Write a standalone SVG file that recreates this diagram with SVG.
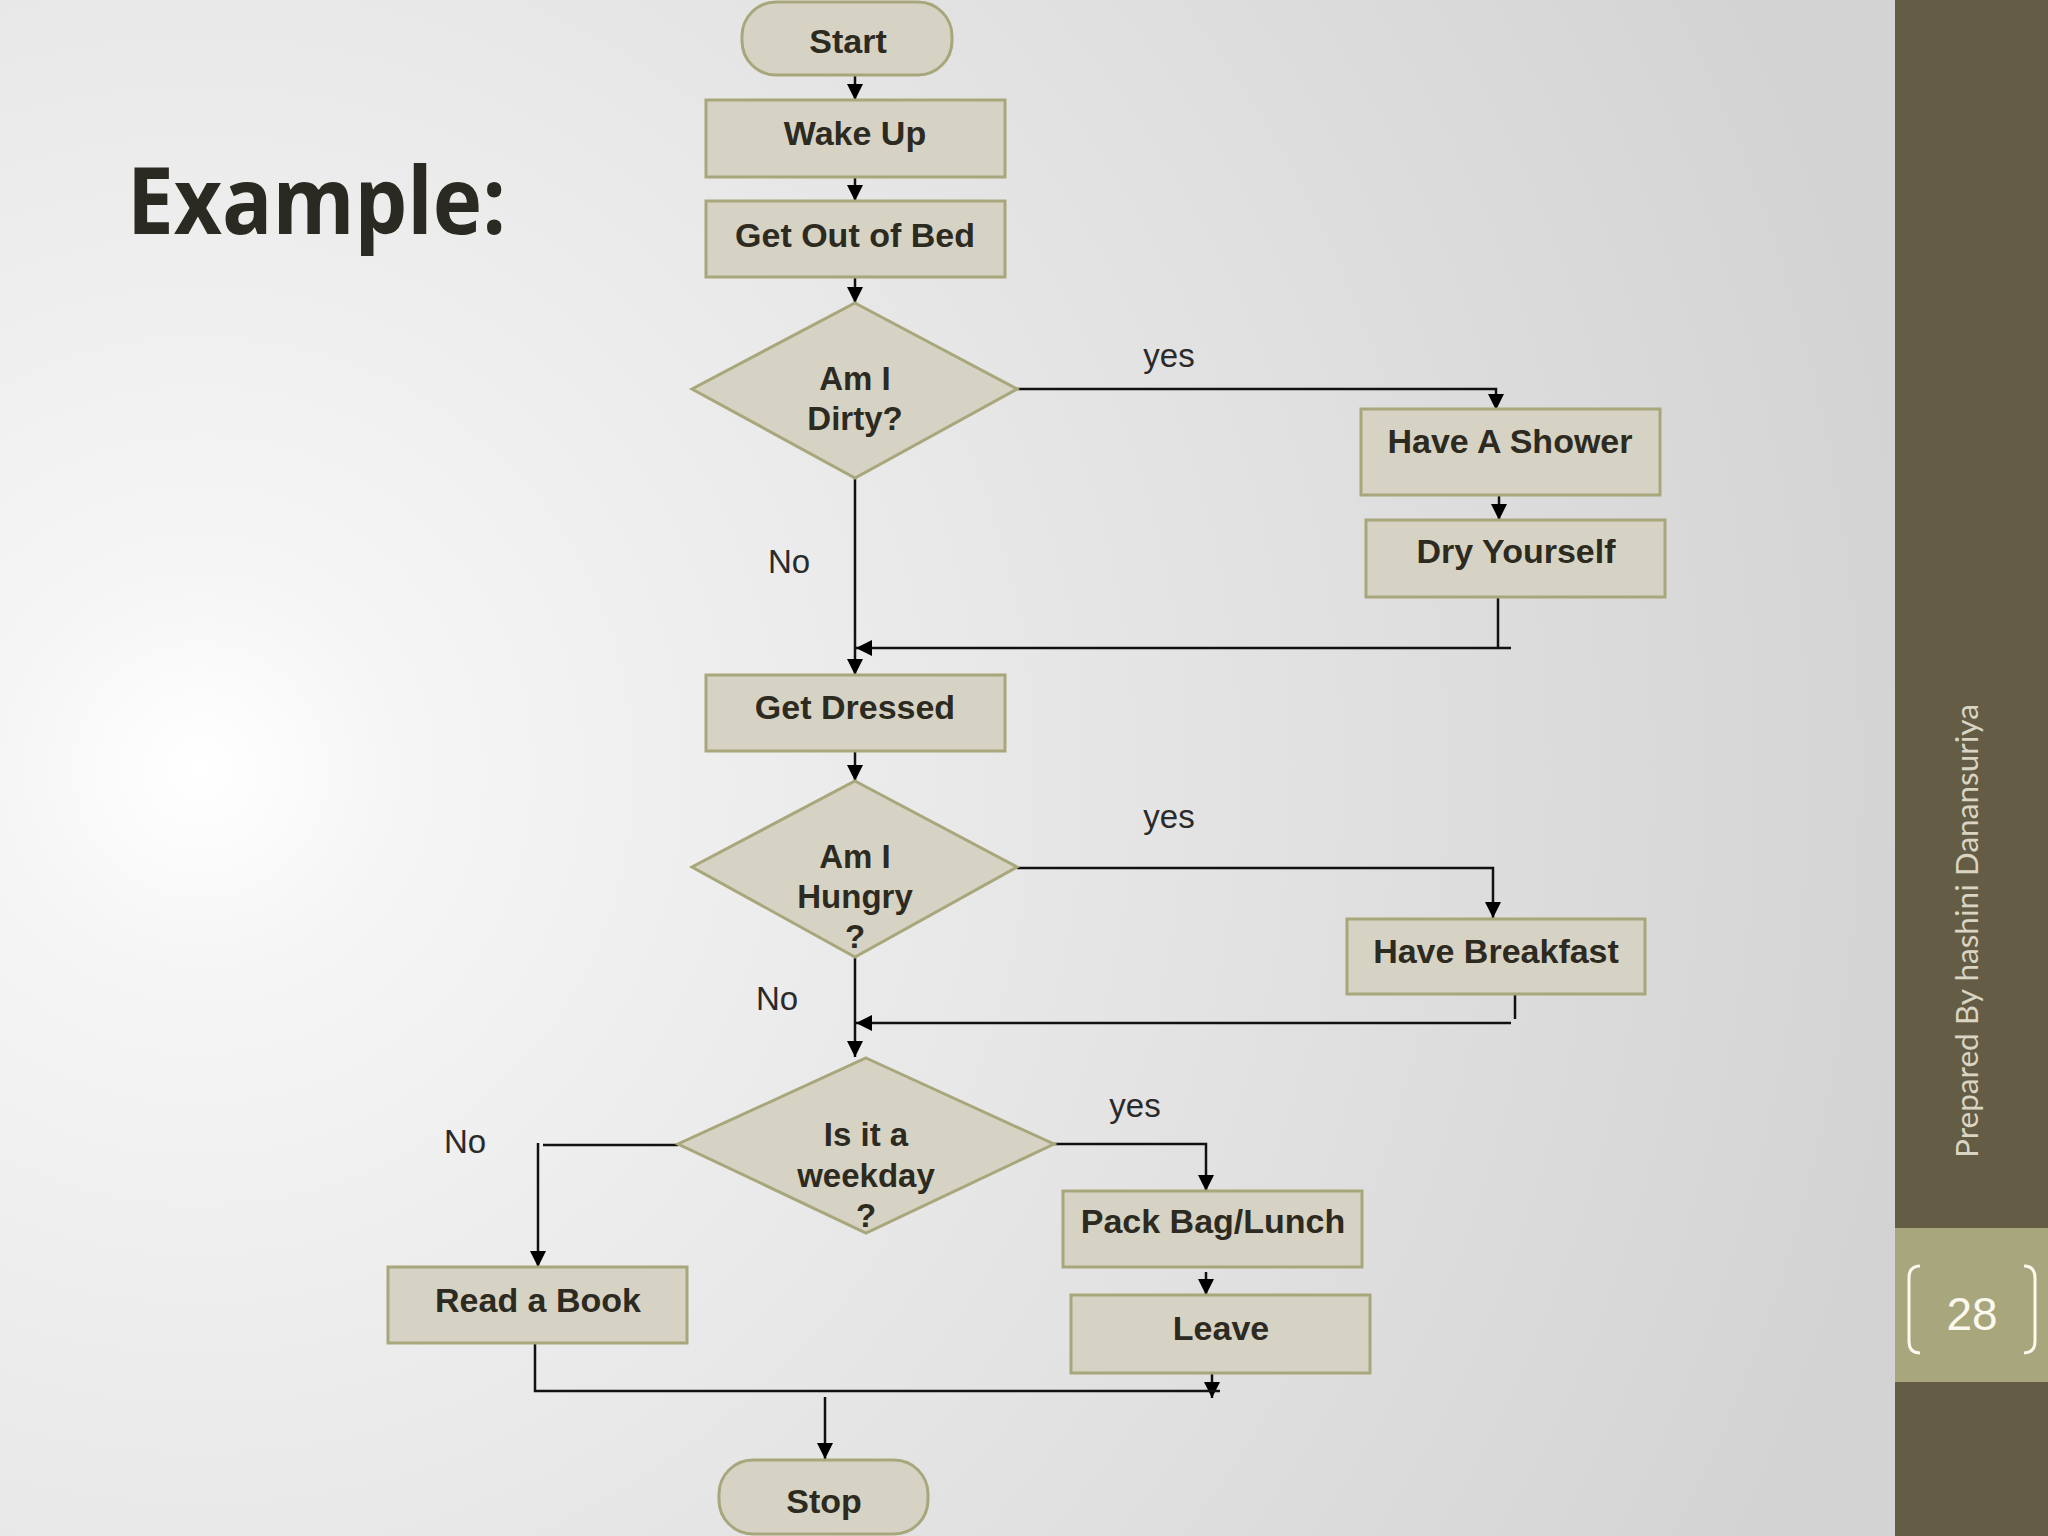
<svg xmlns="http://www.w3.org/2000/svg" width="2048" height="1536" viewBox="0 0 2048 1536">
<defs>
<radialGradient id="bg" gradientUnits="userSpaceOnUse" cx="200" cy="770" r="1750">
<stop offset="0" stop-color="#ffffff"/>
<stop offset="0.12" stop-color="#f5f5f5"/>
<stop offset="0.5" stop-color="#e6e6e6"/>
<stop offset="1" stop-color="#d3d3d3"/>
</radialGradient>
<marker id="ah" viewBox="0 0 16 16" refX="16" refY="8" markerWidth="16" markerHeight="16" markerUnits="userSpaceOnUse" orient="auto">
<path d="M0,0 L16,8 L0,16 z" fill="#000"/>
</marker>
<style>
.box{fill:#d6d3c5;stroke:#a8a77c;stroke-width:3}
.t{font-family:"Liberation Sans",Arial,sans-serif;font-weight:bold;font-size:34px;fill:#2d2a1f;text-anchor:middle}
.d{font-size:33px}
.lbl{font-family:"Liberation Sans",Arial,sans-serif;font-size:33px;fill:#2a2a2a;text-anchor:middle}
.c{fill:none;stroke:#111;stroke-width:2.5}
.a{marker-end:url(#ah)}
</style>
</defs>
<rect x="0" y="0" width="2048" height="1536" fill="url(#bg)"/>
<rect x="1895" y="0" width="153" height="1536" fill="#655c45"/>
<rect x="1895" y="1228" width="153" height="154" fill="#a8a67d"/>
<path d="M1920,1266 Q1909,1266 1909,1278 L1909,1341 Q1909,1353 1920,1353" fill="none" stroke="#fbf8ee" stroke-width="3"/>
<path d="M2024,1266 Q2035,1266 2035,1278 L2035,1341 Q2035,1353 2024,1353" fill="none" stroke="#fbf8ee" stroke-width="3"/>
<text x="1972" y="1330" font-family="Liberation Sans,Arial,sans-serif" font-size="46" fill="#fbf8ee" text-anchor="middle">28</text>
<text transform="translate(1978,931) rotate(-90)" x="0" y="0" font-family="Lato,'Open Sans',sans-serif" font-size="31" fill="#d9d5c2" text-anchor="middle" textLength="454" lengthAdjust="spacingAndGlyphs">Prepared By hashini Danansuriya</text>
<text x="127" y="234" font-family="'Open Sans',Lato,sans-serif" font-weight="bold" font-size="94" fill="#2b2a22" textLength="379" lengthAdjust="spacingAndGlyphs">Example:</text>

<g id="connectors">
<line class="c a" x1="855" y1="76" x2="855" y2="100"/>
<line class="c a" x1="855" y1="177" x2="855" y2="201"/>
<line class="c a" x1="855" y1="277" x2="855" y2="303"/>
<polyline class="c a" points="1017,389 1496,389 1496,410"/>
<line class="c a" x1="1499" y1="495" x2="1499" y2="520"/>
<line class="c" x1="1498" y1="597" x2="1498" y2="648"/>
<line class="c a" x1="1511" y1="648" x2="856" y2="648"/>
<line class="c a" x1="855" y1="478" x2="855" y2="675"/>
<line class="c a" x1="855" y1="751" x2="855" y2="781"/>
<polyline class="c a" points="1017,868 1493,868 1493,918"/>
<line class="c" x1="1515" y1="994" x2="1515" y2="1019"/>
<line class="c a" x1="1511" y1="1023" x2="856" y2="1023"/>
<line class="c a" x1="855" y1="957" x2="855" y2="1057"/>
<line class="c" x1="543" y1="1145" x2="678" y2="1145"/>
<line class="c a" x1="538" y1="1143" x2="538" y2="1267"/>
<polyline class="c a" points="1054,1144 1206,1144 1206,1191"/>
<line class="c a" x1="1206" y1="1272" x2="1206" y2="1295"/>
<line class="c a" x1="1212" y1="1373" x2="1212" y2="1398"/>
<polyline class="c" points="535,1343 535,1391 1220,1391"/>
<line class="c a" x1="825" y1="1397" x2="825" y2="1459"/>
</g>

<g id="start"><rect class="box" x="742" y="2" width="210" height="73" rx="34"/><text class="t" x="848" y="53">Start</text></g>
<g id="wake-up"><rect class="box" x="706" y="100" width="299" height="77"/><text class="t" x="855" y="145">Wake Up</text></g>
<g id="get-out-of-bed"><rect class="box" x="706" y="201" width="299" height="76"/><text class="t" x="855" y="247">Get Out of Bed</text></g>
<g id="dirty"><polygon class="box" points="855,303 1017,389 855,478 692,389"/><text class="t d" x="855" y="390">Am I</text><text class="t d" x="855" y="430">Dirty?</text></g>
<g id="shower"><rect class="box" x="1361" y="409" width="299" height="86"/><text class="t" x="1510" y="453">Have A Shower</text></g>
<g id="dry"><rect class="box" x="1366" y="520" width="299" height="77"/><text class="t" x="1516" y="563">Dry Yourself</text></g>
<g id="get-dressed"><rect class="box" x="706" y="675" width="299" height="76"/><text class="t" x="855" y="719">Get Dressed</text></g>
<g id="hungry"><polygon class="box" points="855,781 1017,867 855,957 692,867"/><text class="t d" x="855" y="868">Am I</text><text class="t d" x="855" y="908">Hungry</text><text class="t d" x="855" y="948">?</text></g>
<g id="breakfast"><rect class="box" x="1347" y="919" width="298" height="75"/><text class="t" x="1496" y="963">Have Breakfast</text></g>
<g id="weekday"><polygon class="box" points="866,1058 1054,1144 866,1233 678,1144"/><text class="t d" x="866" y="1146">Is it a</text><text class="t d" x="866" y="1187">weekday</text><text class="t d" x="866" y="1227">?</text></g>
<g id="read-book"><rect class="box" x="388" y="1267" width="299" height="76"/><text class="t" x="538" y="1312">Read a Book</text></g>
<g id="pack"><rect class="box" x="1063" y="1191" width="299" height="76"/><text class="t" x="1213" y="1233">Pack Bag/Lunch</text></g>
<g id="leave"><rect class="box" x="1071" y="1295" width="299" height="78"/><text class="t" x="1221" y="1340">Leave</text></g>
<g id="stop"><rect class="box" x="719" y="1460" width="209" height="74" rx="34"/><text class="t" x="824" y="1513">Stop</text></g>

<g id="labels">
<text class="lbl" x="1169" y="367">yes</text>
<text class="lbl" x="789" y="573">No</text>
<text class="lbl" x="1169" y="828">yes</text>
<text class="lbl" x="777" y="1010">No</text>
<text class="lbl" x="465" y="1153">No</text>
<text class="lbl" x="1135" y="1117">yes</text>
</g>
</svg>
